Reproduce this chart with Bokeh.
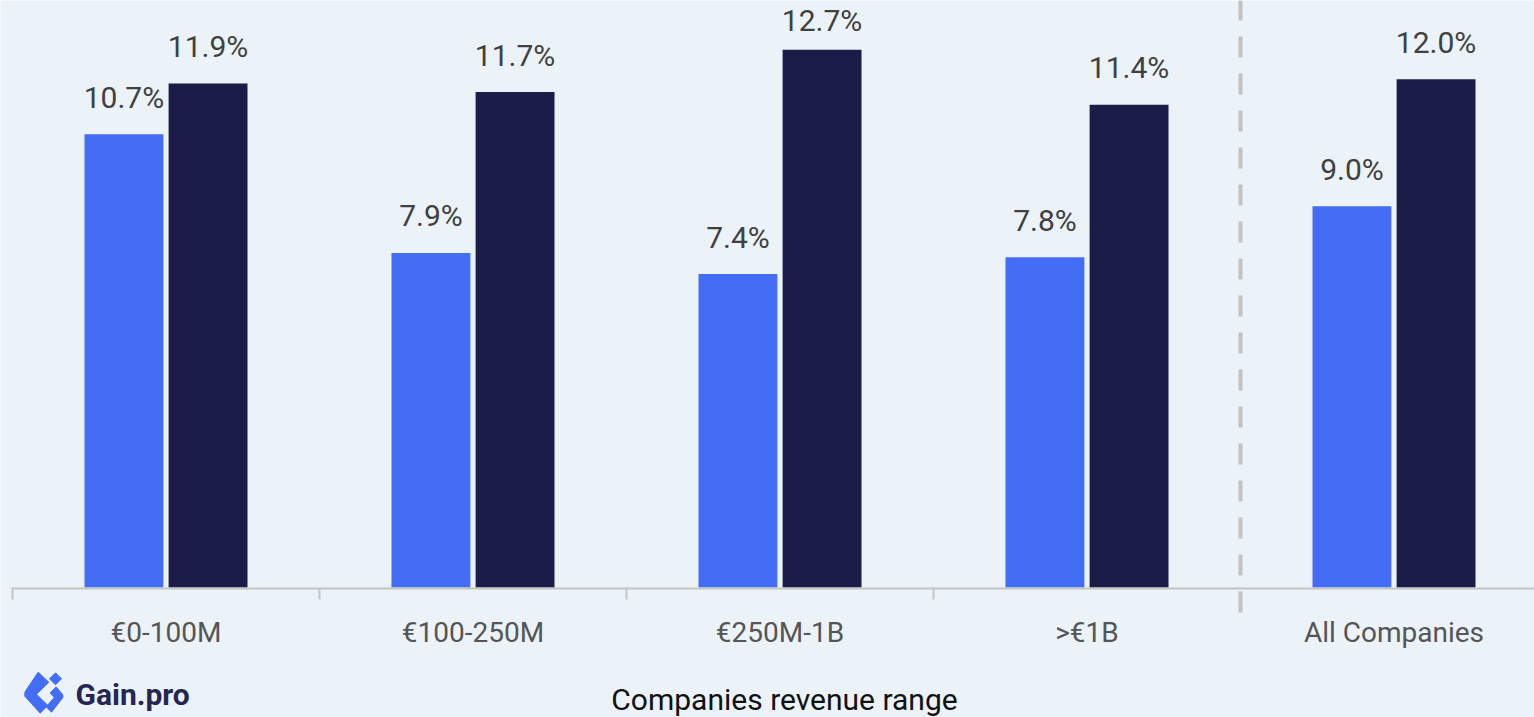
from bokeh.plotting import figure
from bokeh.models import Range1d, ColumnDataSource
from bokeh.core.properties import value
from bokeh.embed import file_html
from bokeh.resources import INLINE

# ---------------- data ----------------
categories = ["€0-100M", "€100-250M", "€250M-1B", ">€1B", "All Companies"]
series_a = [10.7, 7.9, 7.4, 7.8, 9.0]     # blue bars
series_b = [11.9, 11.7, 12.7, 11.4, 12.0]  # dark bars
x_title = "Companies revenue range"
logo_text = "Gain.pro"

# ---------------- styling ----------------
BG = "#EBF3F9"
BLUE = "#446DF6"
NAVY = "#1B1C48"
GRID = "#C4C4C4"
FONT = "Roboto"

W, H = 1534, 717
n = len(categories)
PX_X = 307.0      # pixels per category group
PX_Y = 42.35      # pixels per percentage point
LEFT = 12.0       # screen x of first group boundary
BASE = 587.0      # screen y of the baseline

x_start = -LEFT / PX_X
y_top = BASE / PX_Y
x_range = Range1d(x_start, x_start + W / PX_X)
y_range = Range1d(-(H - BASE) / PX_Y, y_top)


def dx(px):
    return x_start + px / PX_X


def dy(py):
    return (BASE - py) / PX_Y


def label_offset(v):
    # keep labels inside the top edge
    top_px = BASE - v * PX_Y
    return max(-37.0, 20.0 - top_px)


p = figure(width=W, height=H, x_range=x_range, y_range=y_range,
           output_backend="svg", toolbar_location=None,
           background_fill_color=BG, border_fill_color=BG,
           min_border=0)
p.outline_line_color = None
p.grid.visible = False
p.axis.visible = False

centers = [i + 0.5 for i in range(n)]
off = 0.137
bw = 0.257
src = ColumnDataSource(dict(
    xa=[c - off for c in centers], xb=[c + off for c in centers],
    a=series_a, b=series_b,
    oa=[label_offset(v) for v in series_a], ob=[label_offset(v) for v in series_b],
    la=[f"{v:.1f}%" for v in series_a], lb=[f"{v:.1f}%" for v in series_b]))

p.vbar(x="xa", top="a", bottom=0, width=bw, source=src, fill_color=BLUE, line_color=None)
p.vbar(x="xb", top="b", bottom=0, width=bw, source=src, fill_color=NAVY, line_color=None)

lbl = dict(text_font=value(FONT), text_font_size="30px", text_color="#404040",
           text_align="center", text_baseline="alphabetic")
p.text(x="xa", y="a", text="la", y_offset="oa", source=src, **lbl)
p.text(x="xb", y="b", text="lb", y_offset="ob", source=src, **lbl)

# baseline + boundary ticks
p.segment(x0=[0], y0=[dy(BASE + 1)], x1=[n], y1=[dy(BASE + 1)], line_color=GRID, line_width=2)
bounds = list(range(n - 1))
p.segment(x0=bounds, y0=[dy(BASE)] * len(bounds), x1=bounds, y1=[dy(599)] * len(bounds),
          line_color=GRID, line_width=2)
# dashed separator before "All Companies"
p.segment(x0=[n - 1], y0=[dy(612)], x1=[n - 1], y1=[y_top],
          line_color="#C2C2C2", line_width=4, line_dash="21 16")

# category labels and axis title
p.text(x=centers, y=[dy(632)] * n, text=categories, text_font=value(FONT),
       text_font_size="28px", text_color="#555555", text_align="center",
       text_baseline="alphabetic")
p.text(x=[dx(784)], y=[dy(699)], text=[x_title], text_font=value(FONT),
       text_font_size="30px", text_color="#111111", text_align="center",
       text_baseline="alphabetic")

# logo
def icon(pts):
    return [dx(15 + sx / 3) for sx, sy in pts], [dy(665 + sy / 3) for sx, sy in pts]

shapes = [
    [(68, 20), (100, 50), (63, 86), (97, 120), (74, 143), (28, 92), (28, 80)],
    [(120, 22), (138, 40), (120, 58), (102, 40)],
    [(122, 64), (142, 88), (142, 96), (108, 140), (92, 124), (116, 96), (104, 82)],
]
ixs, iys = zip(*[icon(s) for s in shapes])
p.patches(xs=list(ixs), ys=list(iys), fill_color=BLUE, line_color=BLUE, line_width=1)
p.text(x=[dx(75)], y=[dy(694)], text=[logo_text], text_font=value(FONT),
       text_font_size="30px", text_font_style="bold", text_color="#262654",
       text_baseline="alphabetic")

open("out.html", "w").write(file_html(p, INLINE))
